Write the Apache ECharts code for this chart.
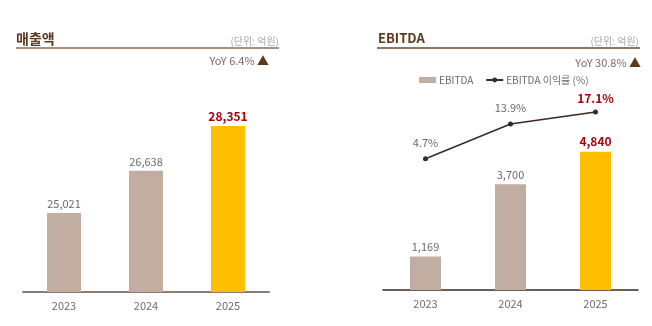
<!DOCTYPE html>
<html><head><meta charset="utf-8">
<script src="https://cdn.jsdelivr.net/npm/echarts@6/dist/echarts.min.js"></script>
<style>html,body{margin:0;padding:0;background:#fff}#c{width:652px;height:326px}</style>
</head><body><div id="c"></div>
<script>
const years = ['2023', '2024', '2025'];
const revenue = [25021, 26638, 28351];
const ebitda = [1169, 3700, 4840];
const ebitdaMargin = [4.7, 13.9, 17.1];
const titles = ['매출액', 'EBITDA'];
const unitText = '(단위: 억원)';
const yoyTexts = ['YoY 6.4%', 'YoY 30.8%'];
const legendNames = ['EBITDA', 'EBITDA 이익률 (%)'];

const FONT = "'Noto Sans CJK KR', 'Noto Sans', sans-serif";
const GRAY = '#6e6a6a';
const RED = '#a8000f';
const BEIGE = '#c1ada1';
const GOLD = '#ffbf00';
const BROWN = '#5b3a1e';

function barItems(vals) {
  return vals.map((v, i) => {
    const last = i === vals.length - 1;
    return {
      value: v,
      itemStyle: { color: last ? GOLD : BEIGE },
      label: last ? { color: RED, fontWeight: 'bold', fontSize: 12 } : {}
    };
  });
}

const chart = echarts.init(document.getElementById('c'));
chart.setOption({
  animation: false,
  textStyle: { fontFamily: FONT },
  title: [
    { text: titles[0], left: 11, top: 27, textStyle: { fontFamily: FONT, fontSize: 14, fontWeight: 'bold', color: BROWN } },
    { text: titles[1], left: 373, top: 27, textStyle: { fontFamily: FONT, fontSize: 13, fontWeight: 'bold', color: BROWN } },
    { text: unitText, right: 652 - 284, top: 31, textStyle: { fontFamily: FONT, fontSize: 10, fontWeight: 'normal', color: '#a9a9a9' } },
    { text: unitText, right: 8, top: 31, textStyle: { fontFamily: FONT, fontSize: 10, fontWeight: 'normal', color: '#a9a9a9' } },
    { text: yoyTexts[0] + ' {t|▲}', right: 652 - 274, top: 50, textStyle: { fontFamily: FONT, fontSize: 11, fontWeight: 'normal', color: '#7a6a5f', rich: { t: { color: BROWN, fontSize: 12 } } } },
    { text: yoyTexts[1] + ' {t|▲}', right: 6, top: 52, textStyle: { fontFamily: FONT, fontSize: 11, fontWeight: 'normal', color: '#7a6a5f', rich: { t: { color: BROWN, fontSize: 12 } } } }
  ],
  graphic: [
    { type: 'line', shape: { x1: 16, y1: 48, x2: 279, y2: 48 }, style: { stroke: '#8b6b52', lineWidth: 1.5 } },
    { type: 'line', shape: { x1: 377, y1: 48, x2: 640, y2: 48 }, style: { stroke: '#6b4a30', lineWidth: 1.5 } }
  ],
  legend: {
    left: 414, top: 70,
    itemGap: 12,
    textStyle: { fontFamily: FONT, fontSize: 10, color: '#6e6a6a', padding: [0, 0, 0, -2] },
    data: [
      { name: legendNames[0], icon: 'rect', itemStyle: { color: BEIGE } },
      { name: legendNames[1] }
    ],
    itemWidth: 17, itemHeight: 6
  },
  grid: [
    { left: 23, right: 652 - 269, top: 83, bottom: 326 - 292 },
    { left: 383, right: 652 - 638, top: 90, bottom: 326 - 290 }
  ],
  xAxis: [
    { type: 'category', gridIndex: 0, data: years,
      axisLine: { lineStyle: { color: '#8b7d74', width: 2 } },
      axisTick: { show: false },
      axisLabel: { color: GRAY, fontSize: 11, margin: 8, fontFamily: FONT } },
    { type: 'category', gridIndex: 1, data: years,
      axisLine: { lineStyle: { color: '#3b2a1f', width: 1.5 } },
      axisTick: { show: false },
      axisLabel: { color: GRAY, fontSize: 11, margin: 8, fontFamily: FONT } }
  ],
  yAxis: [
    { type: 'value', gridIndex: 0, min: 22000, max: 30000, show: false },
    { type: 'value', gridIndex: 1, min: 0, max: 7000, show: false },
    { type: 'value', gridIndex: 1, min: -30, max: 22.9, show: false }
  ],
  series: [
    { type: 'bar', name: '매출액', xAxisIndex: 0, yAxisIndex: 0, barWidth: 34,
      data: barItems(revenue),
      label: { show: true, position: 'top', distance: 4, color: GRAY, fontSize: 11, fontFamily: FONT,
        formatter: p => p.value.toLocaleString('en-US') } },
    { type: 'bar', name: legendNames[0], xAxisIndex: 1, yAxisIndex: 1, barWidth: 31,
      itemStyle: { color: BEIGE },
      data: barItems(ebitda),
      label: { show: true, position: 'top', distance: 4, color: GRAY, fontSize: 11, fontFamily: FONT,
        formatter: p => p.value.toLocaleString('en-US') } },
    { type: 'line', name: legendNames[1], xAxisIndex: 1, yAxisIndex: 2,
      data: ebitdaMargin.map((v, i) => ({ value: v,
        label: i === ebitdaMargin.length - 1 ? { color: RED, fontWeight: 'bold', fontSize: 12, distance: 5 } : {} })),
      symbol: 'circle', symbolSize: 5,
      lineStyle: { color: '#3b2a1f', width: 1.5 },
      itemStyle: { color: '#3b2a1f' },
      label: { show: true, position: 'top', distance: 8, color: GRAY, fontSize: 11, fontFamily: FONT,
        formatter: p => p.value.toFixed(1) + '%' },
      z: 5 }
  ]
});
</script></body></html>
